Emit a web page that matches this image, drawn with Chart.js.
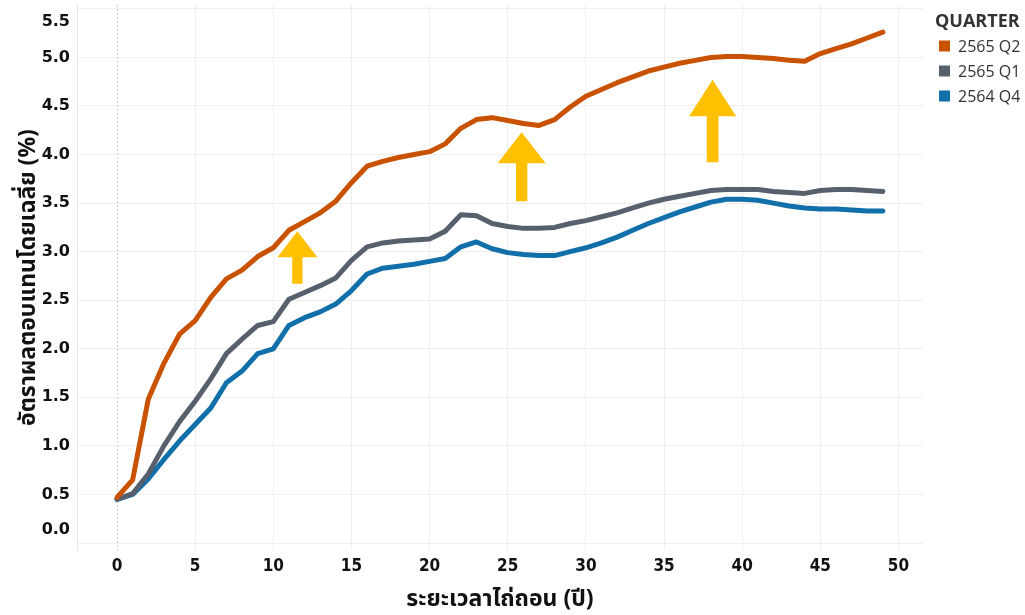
<!DOCTYPE html>
<html>
<head>
<meta charset="utf-8">
<script src="https://cdn.jsdelivr.net/npm/chart.js@4.4.1/dist/chart.umd.min.js"></script>
<style>
  html, body { margin: 0; padding: 0; background: #ffffff; }
  #wrap { width: 1025px; height: 615px; position: relative; }
</style>
</head>
<body>
<div id="wrap"><canvas id="c" width="1025" height="615"></canvas></div>
<script>
// Time to maturity (years)
const maturity = [0, 1, 2, 3, 4, 5, 6, 7, 8, 9, 10, 11, 12, 13, 14, 15, 16, 17, 18, 19,
  20, 21, 22, 23, 24, 25, 26, 27, 28, 29, 30, 31, 32, 33, 34, 35, 36, 37, 38, 39,
  40, 41, 42, 43, 44, 45, 46, 47, 48, 49];

// Average yield (%) by quarter
const q2_2565 = [0.47, 0.65, 1.48, 1.85, 2.15, 2.29, 2.53, 2.72, 2.81, 2.95,
  3.04, 3.22, 3.31, 3.40, 3.52, 3.71, 3.88, 3.93, 3.97, 4.00,
  4.03, 4.11, 4.27, 4.36, 4.38, 4.35, 4.32, 4.30, 4.36, 4.49,
  4.60, 4.67, 4.74, 4.80, 4.86, 4.90, 4.94, 4.97, 5.00, 5.01,
  5.01, 5.00, 4.99, 4.97, 4.96, 5.04, 5.09, 5.14, 5.20, 5.26];
const q1_2565 = [0.45, 0.51, 0.71, 1.00, 1.25, 1.46, 1.69, 1.95, 2.10, 2.24,
  2.28, 2.51, 2.58, 2.65, 2.73, 2.91, 3.05, 3.09, 3.11, 3.12,
  3.13, 3.21, 3.38, 3.37, 3.29, 3.26, 3.24, 3.24, 3.25, 3.29,
  3.32, 3.36, 3.40, 3.45, 3.50, 3.54, 3.57, 3.60, 3.63, 3.64,
  3.64, 3.64, 3.62, 3.61, 3.60, 3.63, 3.64, 3.64, 3.63, 3.62];
const q4_2564 = [0.45, 0.50, 0.66, 0.86, 1.05, 1.22, 1.39, 1.65, 1.77, 1.95,
  2.00, 2.24, 2.32, 2.38, 2.46, 2.60, 2.77, 2.83, 2.85, 2.87,
  2.90, 2.93, 3.05, 3.10, 3.03, 2.99, 2.97, 2.96, 2.96, 3.00,
  3.04, 3.09, 3.15, 3.22, 3.29, 3.35, 3.41, 3.46, 3.51, 3.54,
  3.54, 3.53, 3.50, 3.47, 3.45, 3.44, 3.44, 3.43, 3.42, 3.42];

const seriesNames = ['2565 Q2', '2565 Q1', '2564 Q4'];
const xTickValues = [0, 5, 10, 15, 20, 25, 30, 35, 40, 45, 50];
const yTickValues = [0, 0.5, 1, 1.5, 2, 2.5, 3, 3.5, 4, 4.5, 5, 5.5];

// Upward arrows: position on the maturity axis, tip and tail on the yield axis
const arrowX = [11.54, 25.89, 38.11];
const arrowTip = [3.21, 4.23, 4.77];
const arrowTail = [2.67, 3.52, 3.92];

const colors = ['#c85200', '#57606c', '#1170aa'];
const arrowShape = [
  { head: 40, headLen: 26, shaft: 10.3 },
  { head: 48, headLen: 31, shaft: 11.3 },
  { head: 47, headLen: 36.5, shaft: 11.7 }
];

const toPoints = (ys) => ys.map((y, i) => ({ x: maturity[i], y: y }));

const thaiFont = "'Noto Sans Thai', 'Noto Sans Thai UI', 'Tahoma', 'Noto Sans', sans-serif";

const arrowPlugin = {
  id: 'arrows',
  afterDatasetsDraw(chart) {
    const { ctx, scales: { x, y } } = chart;
    ctx.save();
    ctx.fillStyle = '#ffc000';
    arrowX.forEach((ax, i) => {
      const s = arrowShape[i];
      const cx = x.getPixelForValue(ax);
      const tipY = y.getPixelForValue(arrowTip[i]);
      const tailY = y.getPixelForValue(arrowTail[i]);
      const baseY = tipY + s.headLen;
      ctx.beginPath();
      ctx.moveTo(cx, tipY);
      ctx.lineTo(cx + s.head / 2, baseY);
      ctx.lineTo(cx + s.shaft / 2, baseY);
      ctx.lineTo(cx + s.shaft / 2, tailY);
      ctx.lineTo(cx - s.shaft / 2, tailY);
      ctx.lineTo(cx - s.shaft / 2, baseY);
      ctx.lineTo(cx - s.head / 2, baseY);
      ctx.closePath();
      ctx.fill();
    });
    ctx.restore();
  }
};

const legendPlugin = {
  id: 'quarterLegend',
  afterDraw(chart) {
    const { ctx, chartArea } = chart;
    const left = chartArea.right + 12;
    ctx.save();
    ctx.textBaseline = 'middle';
    ctx.textAlign = 'left';
    ctx.fillStyle = '#333333';
    ctx.font = "bold 18px 'Open Sans', sans-serif";
    ctx.fillText('QUARTER', left, 22);
    ctx.font = "16px 'Open Sans', sans-serif";
    chart.data.datasets.forEach((ds, i) => {
      const cy = 46 + i * 25;
      ctx.fillStyle = ds.borderColor;
      ctx.fillRect(left + 4, cy - 5.5, 11, 11);
      ctx.fillStyle = '#333333';
      ctx.fillText(ds.label, left + 23, cy + 1);
    });
    ctx.restore();
  }
};

new Chart(document.getElementById('c'), {
  type: 'line',
  data: {
    datasets: [q2_2565, q1_2565, q4_2564].map((ys, i) => ({
      label: seriesNames[i],
      data: toPoints(ys),
      borderColor: colors[i],
      backgroundColor: colors[i],
      borderWidth: 5,
      borderCapStyle: 'round',
      borderJoinStyle: 'round',
      pointRadius: 0,
      tension: 0,
      fill: false
    }))
  },
  options: {
    responsive: false,
    devicePixelRatio: 1,
    animation: false,
    layout: { padding: { left: 0, right: 102, top: 5, bottom: 0 } },
    plugins: { legend: { display: false }, tooltip: { enabled: false } },
    scales: {
      x: {
        type: 'linear',
        min: -2.56,
        max: 51.57,
        afterBuildTicks: (s) => { s.ticks = xTickValues.map(v => ({ value: v })); },
        afterFit: (s) => { s.height = 65; s.paddingLeft = 0; s.paddingRight = 0; },
        ticks: {
          autoSkip: false,
          maxRotation: 0,
          padding: 6,
          color: '#111111',
          font: { family: "'DejaVu Sans Condensed', 'DejaVu Sans', sans-serif", weight: 'bold', size: 17 },
          callback: (v) => String(v)
        },
        grid: {
          drawTicks: false,
          color: (c) => (c.tick && c.tick.value === 0 ? '#cfcfcf' : '#eeeeee'),
          lineWidth: 1
        },
        border: {
          display: false,
          dash: (c) => (c.tick && c.tick.value === 0 ? [2, 2] : [])
        },
        title: {
          display: true,
          text: 'ระยะเวลาไถ่ถอน (ปี)',
          color: '#111111',
          font: { family: thaiFont, weight: 'bold', size: 23 },
          padding: { top: 0, bottom: 0 }
        }
      },
      y: {
        type: 'linear',
        min: -0.072,
        max: 5.54,
        afterBuildTicks: (s) => { s.ticks = yTickValues.map(v => ({ value: v })); },
        afterFit: (s) => { s.width = 77; s.paddingTop = 0; s.paddingBottom = 0; },
        ticks: {
          autoSkip: false,
          padding: 7,
          color: '#111111',
          font: { family: "'DejaVu Sans', sans-serif", weight: 'bold', size: 16, lineHeight: 1.6 },
          callback: (v) => {
            const t = Number(v).toFixed(1);
            if (v === 5.5) return ['', t];
            if (v === 0) return [t, ''];
            return t;
          }
        },
        grid: { drawTicks: false, color: '#eeeeee', lineWidth: 1 },
        border: { display: true, color: '#e6e6e6', width: 1 },
        title: {
          display: true,
          text: 'อัตราผลตอบแทนโดยเฉลี่ย (%)',
          color: '#111111',
          font: { family: thaiFont, weight: 'bold', size: 23 },
          padding: { top: 17, bottom: 0 }
        }
      }
    }
  },
  plugins: [arrowPlugin, legendPlugin]
});
</script>
</body>
</html>
